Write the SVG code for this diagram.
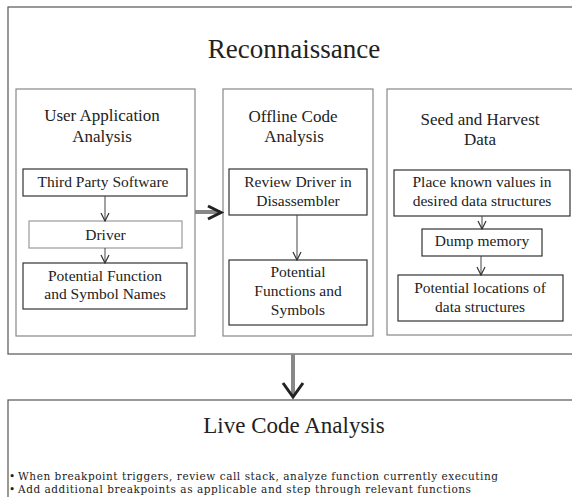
<svg xmlns="http://www.w3.org/2000/svg" width="572" height="497" viewBox="0 0 572 497">
<style>
text{font-family:"Liberation Serif","Times New Roman",serif;fill:#222;text-anchor:middle}
.big{font-size:27px}
.sub{font-size:17px}
.in{font-size:15.5px}
.outer{fill:#fff;stroke:#555;stroke-width:1.2}
.panel{fill:#fff;stroke:#888;stroke-width:1.2}
.box{fill:#fff;stroke:#333;stroke-width:1.2}
.lbox{fill:#fff;stroke:#999;stroke-width:1.2}
.thin{stroke:#444;stroke-width:1;fill:none}
.shaft{stroke:#888;stroke-width:4;fill:none}
.head{stroke:#222;stroke-width:3;fill:none}
.bul{font-family:"DejaVu Serif","Liberation Serif",serif;font-size:10.5px;text-anchor:start}
</style>
<defs>
<marker id="v" viewBox="0 0 10 10" refX="9" refY="5" markerWidth="10" markerHeight="10" markerUnits="userSpaceOnUse" orient="auto">
<path d="M1,1 L9,5 L1,9" fill="none" stroke="#333" stroke-width="1.2"/>
</marker>
</defs>
<g id="recon">
<rect class="outer" x="8" y="7" width="570" height="347"/>
<text class="big" x="294" y="58">Reconnaissance</text>
</g>
<g id="user-app">
<rect class="panel" x="16" y="89" width="179" height="247"/>
<text class="sub" x="102" y="121">User Application</text>
<text class="sub" x="102" y="142">Analysis</text>
</g>
<g id="third-party">
<rect class="box" x="23" y="169" width="164" height="27"/>
<text class="in" x="103" y="187">Third Party Software</text>
</g>
<g id="driver">
<rect class="lbox" x="29" y="221" width="153" height="27"/>
<text class="in" x="105.5" y="240">Driver</text>
</g>
<g id="pot-func-names">
<rect class="box" x="23" y="263" width="164" height="46"/>
<text class="in" x="105" y="281">Potential Function</text>
<text class="in" x="105" y="299">and Symbol Names</text>
</g>
<g id="offline">
<rect class="panel" x="223" y="89" width="150" height="247"/>
<text class="sub" x="293" y="122">Offline Code</text>
<text class="sub" x="294" y="142">Analysis</text>
</g>
<g id="review">
<rect class="box" x="229" y="169" width="138" height="46"/>
<text class="in" x="298" y="187">Review Driver in</text>
<text class="in" x="298" y="206">Disassembler</text>
</g>
<g id="pot-funcs">
<rect class="box" x="229" y="260" width="138" height="65"/>
<text class="in" x="298" y="277">Potential</text>
<text class="in" x="298" y="296">Functions and</text>
<text class="in" x="298" y="315">Symbols</text>
</g>
<g id="seed">
<rect class="panel" x="387" y="89" width="190" height="246"/>
<text class="sub" x="480" y="125">Seed and Harvest</text>
<text class="sub" x="480" y="145">Data</text>
</g>
<g id="place">
<rect class="box" x="394" y="170" width="176" height="46"/>
<text class="in" x="482" y="187">Place known values in</text>
<text class="in" x="482" y="206">desired data structures</text>
</g>
<g id="dump">
<rect class="box" x="422" y="229" width="120" height="27"/>
<text class="in" x="482" y="246">Dump memory</text>
</g>
<g id="pot-loc">
<rect class="box" x="398" y="275" width="165" height="46"/>
<text class="in" x="480" y="293">Potential locations of</text>
<text class="in" x="480" y="312">data structures</text>
</g>
<g id="live">
<rect class="outer" x="8" y="400" width="570" height="110"/>
<text class="big" x="294" y="433" style="font-size:23px">Live Code Analysis</text>
<text class="bul" x="9" y="480">•</text>
<text class="bul" x="18" y="480" textLength="480" lengthAdjust="spacing">When breakpoint triggers, review call stack, analyze function currently executing</text>
<text class="bul" x="9" y="493">•</text>
<text class="bul" x="18" y="493" textLength="453" lengthAdjust="spacing">Add additional breakpoints as applicable and step through relevant functions</text>
</g>
<g id="connectors">
<line class="thin" x1="105" y1="196" x2="105" y2="221" marker-end="url(#v)"/>
<line class="thin" x1="105" y1="248" x2="105" y2="263" marker-end="url(#v)"/>
<line class="thin" x1="297" y1="215" x2="297" y2="260" marker-end="url(#v)"/>
<line class="thin" x1="482" y1="216" x2="482" y2="229" marker-end="url(#v)"/>
<line class="thin" x1="481" y1="256" x2="481" y2="275" marker-end="url(#v)"/>
<line class="shaft" x1="195" y1="212" x2="220" y2="212"/>
<path class="head" d="M208,206 L221,212.5 L208,219"/>
<line class="shaft" x1="293" y1="354" x2="293" y2="396"/>
<path class="head" d="M283,383 L293,397 L303,383"/>
</g>
</svg>
